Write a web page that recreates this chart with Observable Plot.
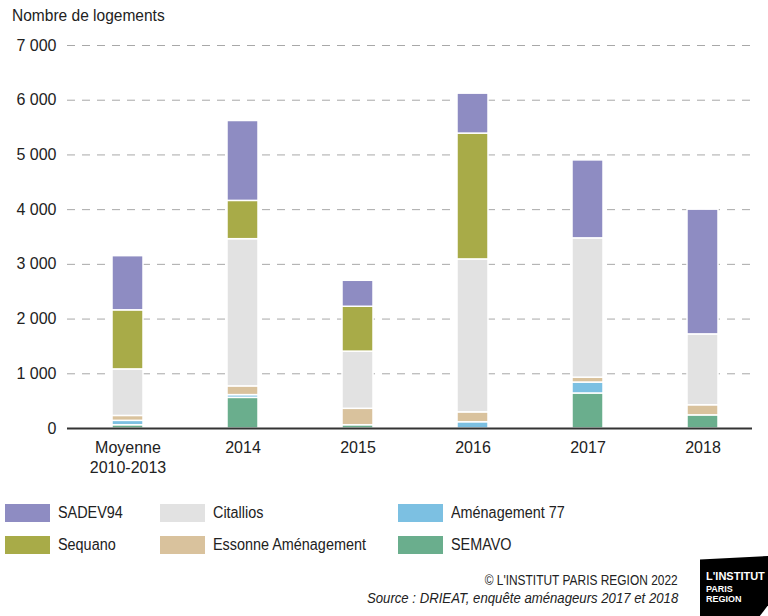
<!DOCTYPE html>
<html><head><meta charset="utf-8">
<script src="https://cdn.jsdelivr.net/npm/d3@7"></script>
<script src="https://cdn.jsdelivr.net/npm/@observablehq/plot@0.6"></script>
<style>
body{margin:0;width:768px;height:616px;position:relative;overflow:hidden;background:#fff;font-family:"Liberation Sans",Arial,sans-serif;color:#222}
#title{position:absolute;left:12px;top:7px;font-size:16px;transform:scaleX(0.97);transform-origin:left}
#chart{position:absolute;left:0;top:0}
.leg{position:absolute;display:flex;align-items:center;font-size:16px;height:20px;white-space:nowrap}
.sw{width:45px;height:18px;margin-right:8px;flex:none}
.lt{display:inline-block;transform:scaleX(0.9);transform-origin:left}
#copy{position:absolute;right:90px;top:571px;font-size:15.5px;text-align:right;white-space:nowrap;transform:scaleX(0.77);transform-origin:right}
#src{position:absolute;right:90px;top:589px;font-size:15.5px;font-style:italic;text-align:right;white-space:nowrap;transform:scaleX(0.85);transform-origin:right}
#logo{position:absolute;left:700px;top:556px;width:68px;height:60px;background:#000;color:#fff;clip-path:polygon(0 6%,100% 0,100% 82%,88% 100%,0 100%);font-family:"Liberation Sans","DejaVu Sans",sans-serif;font-weight:bold}
#logo div{position:absolute;left:6px;line-height:1}
</style></head>
<body>
<div id="chart"></div>
<div id="title">Nombre de logements</div>
<div id="legend"></div>
<div id="copy">© L'INSTITUT PARIS REGION 2022</div>
<div id="src">Source : DRIEAT, enquête aménageurs 2017 et 2018</div>
<div id="logo"><div style="top:15px;font-size:11px">L'INSTITUT</div><div style="top:29px;font-size:9px">PARIS</div><div style="top:39px;font-size:9px">REGION</div></div>
<script>
const categories = ["Moyenne\n2010-2013","2014","2015","2016","2017","2018"];
const seriesNames = ["SEMAVO","Aménagement 77","Essonne Aménagement","Citallios","Sequano","SADEV94"];
const seriesColors = ["#6aae8d","#7cc0e2","#d9c29d","#e2e2e2","#a8ab48","#8e8cc2"];
const semavo = [60, 560, 60, 0, 640, 240];
const amenagement77 = [80, 50, 0, 115, 200, 0];
const essonne = [90, 160, 300, 180, 90, 185];
const citallios = [850, 2690, 1045, 2795, 2545, 1295];
const sequano = [1080, 700, 820, 2300, 0, 0];
const sadev94 = [990, 1460, 475, 730, 1425, 2280];
const yTicks = [0,1000,2000,3000,4000,5000,6000,7000];
const legendOrder = ["SADEV94","Citallios","Aménagement 77","Sequano","Essonne Aménagement","SEMAVO"];

const seriesValues = [semavo, amenagement77, essonne, citallios, sequano, sadev94];
const data = [];
categories.forEach((c,i)=>seriesNames.forEach((s,j)=>{ if (seriesValues[j][i] > 0) data.push({cat:c, series:s, value:seriesValues[j][i]}); }));

const fmt = d => d3.format(",")(d).replace(/,/g," ");
const chart = Plot.plot({
  width: 768, height: 482,
  marginLeft: 67, marginRight: 16, marginTop: 45, marginBottom: 54,
  style: {fontFamily: '"Liberation Sans",Arial,sans-serif', color: "#222", background: "transparent"},
  x: {domain: categories, paddingInner: 0.73, paddingOuter: 0.3225, align: 0.57, label: null},
  y: {domain: [0,7000], label: null},
  color: {domain: seriesNames, range: seriesColors},
  marks: [
    Plot.gridY(yTicks.filter(d=>d>0), {stroke:"#a8a8a8", strokeOpacity:1, strokeDasharray:"8,7", strokeWidth:1}),
    Plot.barY(data, {x:"cat", y:"value", fill:"series", order: seriesNames, stroke:"white", strokeWidth:1.5}),
    Plot.ruleY([0], {stroke:"#333", strokeWidth:2}),
    Plot.axisY({ticks: yTicks, tickFormat: fmt, tickSize: 0, tickPadding: 11, fontSize: 16, label: null}),
    Plot.axisX({tickSize: 0, tickPadding: 10, fontSize: 16, lineHeight: 1.25, label: null})
  ]
});
document.getElementById("chart").appendChild(chart);

const legendCols = [5, 160, 398];
const legendRows = [503, 535];
const legend = document.getElementById("legend");
legendOrder.forEach((s,k)=>{
  const el = document.createElement("div");
  el.className = "leg";
  el.style.left = legendCols[k%3] + "px";
  el.style.top = legendRows[Math.floor(k/3)] + "px";
  el.innerHTML = `<span class="sw" style="background:${seriesColors[seriesNames.indexOf(s)]}"></span><span class="lt">${s}</span>`;
  legend.appendChild(el);
});
</script>
</body></html>
